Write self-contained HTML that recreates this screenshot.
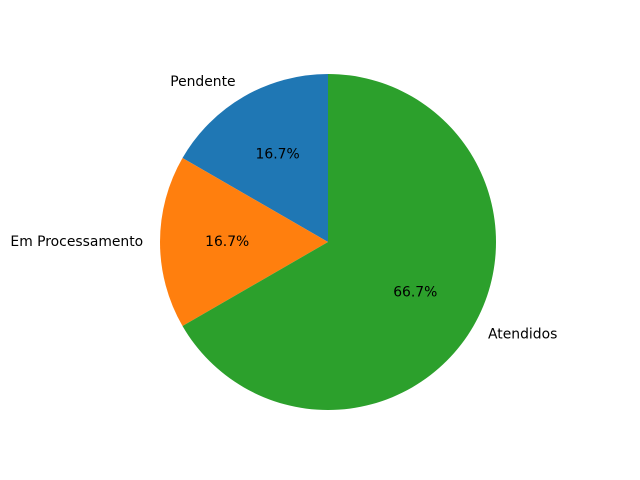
<!DOCTYPE html>
<html><head><meta charset="utf-8"><style>
html,body{margin:0;padding:0;background:#fff;}
svg{display:block;font-family:"DejaVu Sans","Liberation Sans",sans-serif;}
</style></head><body>
<svg id="chart" width="640" height="480" viewBox="0 0 640 480" xmlns="http://www.w3.org/2000/svg"></svg>
<script>
const categories = ["Pendente", "Em Processamento", "Atendidos"];
const values = [1, 1, 4];
const colors = ["#1f77b4", "#ff7f0e", "#2ca02c"];

const svg = document.getElementById('chart');
const NS = "http://www.w3.org/2000/svg";
const cx = 328, cy = 242, r = 168;
const total = values.reduce((a,b)=>a+b,0);
let start = 90;
function pt(angDeg, rad){ const a = angDeg*Math.PI/180; return [cx + rad*Math.cos(a), cy - rad*Math.sin(a)]; }
values.forEach((v,i)=>{
  const sweep = v/total*360;
  const end = start + sweep;
  const [x1,y1] = pt(start, r), [x2,y2] = pt(end, r);
  const large = sweep > 180 ? 1 : 0;
  const p = document.createElementNS(NS,'path');
  p.setAttribute('d', `M${cx},${cy} L${x1},${y1} A${r},${r} 0 ${large} 0 ${x2},${y2} Z`);
  p.setAttribute('fill', colors[i]);
  
  
  svg.appendChild(p);
  const mid = start + sweep/2;
  const [lx,ly] = pt(mid, r*1.1);
  const t = document.createElementNS(NS,'text');
  t.textContent = categories[i];
  t.setAttribute('x', lx); t.setAttribute('y', ly);
  t.setAttribute('font-size', '13.9');
  t.setAttribute('dominant-baseline', 'middle');
  t.setAttribute('text-anchor', Math.cos(mid*Math.PI/180) < 0 ? 'end' : 'start');
  
  
  svg.appendChild(t);
  const [px,py] = pt(mid, r*0.6);
  const pc = document.createElementNS(NS,'text');
  pc.textContent = (v/total*100).toFixed(1) + '%';
  pc.setAttribute('x', px); pc.setAttribute('y', py);
  pc.setAttribute('font-size', '13.9');
  pc.setAttribute('dominant-baseline', 'middle');
  pc.setAttribute('text-anchor', 'middle');
  
  
  svg.appendChild(pc);
  start = end;
});
</script>
</body></html>
